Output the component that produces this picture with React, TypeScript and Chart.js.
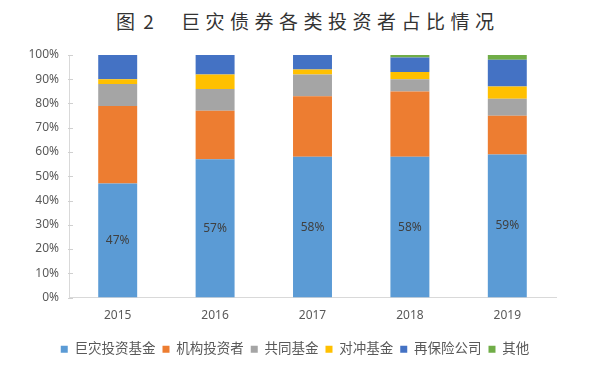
import React, { useEffect, useRef } from "react";
import { Chart, registerables } from "chart.js";

Chart.register(...registerables);

const TITLE_FIG = "图 2";
const TITLE_MAIN = "巨灾债券各类投资者占比情况";
const years = ["2015", "2016", "2017", "2018", "2019"];
const catFund = [47, 57, 58, 58, 59];
const institutional = [32, 20, 25, 27, 16];
const mutualFund = [9, 9, 9, 5, 7];
const hedgeFund = [2, 6, 2, 3, 5];
const reinsurer = [10, 8, 6, 6, 11];
const others = [0, 0, 0, 1, 2];
const seriesNames = ["巨灾投资基金", "机构投资者", "共同基金", "对冲基金", "再保险公司", "其他"];
const seriesColors = ["#5B9BD5", "#ED7D31", "#A5A5A5", "#FFC000", "#4472C4", "#70AD47"];
const yTicks = [0, 10, 20, 30, 40, 50, 60, 70, 80, 90, 100];

const FONT = "'Noto Sans', 'Noto Sans CJK SC', sans-serif";

const innerTicks = {
  id: "innerTicks",
  afterDraw(chart: any) {
    const ctx = chart.ctx;
    const y = chart.scales.y;
    const x0 = chart.chartArea.left;
    ctx.save();
    ctx.strokeStyle = "#D0D0D0";
    ctx.lineWidth = 1;
    yTicks.forEach((v) => {
      const py = Math.round(y.getPixelForValue(v)) + 0.5;
      ctx.beginPath();
      ctx.moveTo(x0 - 1, py);
      ctx.lineTo(x0 + 4, py);
      ctx.stroke();
    });
    ctx.restore();
  },
};

const valueLabels = {
  id: "valueLabels",
  afterDatasetsDraw(chart: any) {
    const ctx = chart.ctx;
    const meta = chart.getDatasetMeta(0);
    ctx.save();
    ctx.fillStyle = "#404040";
    ctx.font = `12px ${FONT}`;
    ctx.textAlign = "center";
    ctx.textBaseline = "middle";
    meta.data.forEach((el: any, i: number) => {
      const cy = (el.y + el.base) / 2;
      ctx.fillText(`${catFund[i]}%`, el.x, cy);
    });
    ctx.restore();
  },
};

const legendShift = {
  id: "legendShift",
  afterLayout(chart: any) {
    const lg = chart.legend;
    if (lg) {
      lg.left += 17;
      lg.right += 17;
    }
  },
};

export default function App() {
  const ref = useRef<HTMLCanvasElement>(null);
  useEffect(() => {
    const values = [catFund, institutional, mutualFund, hedgeFund, reinsurer, others];
    const chart = new Chart(ref.current!, {
      type: "bar",
      data: {
        labels: years,
        datasets: seriesNames.map((name, i) => ({
          label: name,
          data: values[i],
          backgroundColor: seriesColors[i],
          borderWidth: 0,
          barPercentage: 0.4,
          categoryPercentage: 1,
        })),
      },
      options: {
        animation: false,
        responsive: false,
        maintainAspectRatio: false,
        layout: { padding: { top: 55, right: 44, bottom: 3, left: 0 } },
        plugins: {
          title: { display: false },
          tooltip: { enabled: false },
          legend: {
            position: "bottom",
            labels: {
              boxWidth: 7,
              boxHeight: 7,
              padding: 7,
              color: "#595959",
              font: { size: 13.5, family: FONT },
            },
          },
        },
        scales: {
          x: {
            stacked: true,
            grid: { display: false, drawTicks: false },
            border: { color: "#D9D9D9" },
            ticks: { color: "#595959", padding: 11, font: { size: 12, family: FONT } },
            afterFit: (s: any) => {
              s.height = 38;
            },
          },
          y: {
            stacked: true,
            min: 0,
            max: 100,
            grid: { display: false, drawTicks: false },
            border: { color: "#D9D9D9" },
            ticks: {
              stepSize: 10,
              padding: 10,
              color: "#595959",
              font: { size: 12, family: FONT },
              callback: (v: any) => `${v}%`,
            },
            afterFit: (s: any) => {
              s.width = 69;
            },
          },
        },
      },
      plugins: [innerTicks, valueLabels, legendShift],
    });
    return () => chart.destroy();
  }, []);

  const titleStyle: React.CSSProperties = {
    position: "absolute",
    top: 6,
    fontSize: 19,
    lineHeight: "30px",
    color: "#333",
    fontFamily: "'Noto Sans CJK SC', serif",
    fontWeight: 400,
    whiteSpace: "pre",
  };

  return (
    <div style={{ position: "fixed", left: 0, top: 0, width: 600, height: 369, background: "#fff" }}>
      <div style={{ ...titleStyle, left: 116, letterSpacing: 2 }}>{TITLE_FIG}</div>
      <div style={{ ...titleStyle, left: 181, letterSpacing: 5.5 }}>{TITLE_MAIN}</div>
      <canvas ref={ref} width={600} height={369} style={{ position: "absolute", left: 0, top: 0 }} />
    </div>
  );
}
